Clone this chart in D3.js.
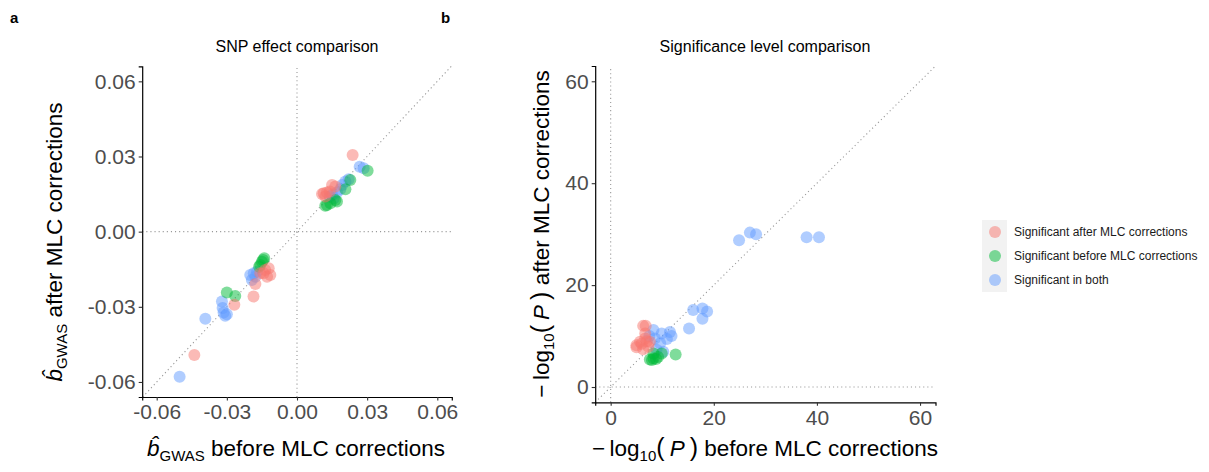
<!DOCTYPE html>
<html><head><meta charset="utf-8">
<script src="https://cdn.jsdelivr.net/npm/d3@7"></script>
<style>
html,body{margin:0;padding:0;background:#fff;}
svg{display:block;font-family:"Liberation Sans",Arial,Helvetica,sans-serif;}
</style></head>
<body><svg id="chart" width="1209" height="472"></svg>
<script>
// ---------- data ----------
const groupNames = ["Significant after MLC corrections","Significant before MLC corrections","Significant in both"];
const groupColors = ["#F8766D","#00BA38","#619CFF"];

// Panel a: SNP effects (before, after)
const effectAfterX  = [-0.0439,-0.0268,-0.0186,-0.0178,-0.0136,-0.0121,-0.0114,-0.0143,-0.0157,-0.0128, 0.0238,0.0150,0.0164,0.0114,0.0128,0.0121,0.0107,0.0140];
const effectAfterY  = [-0.0492,-0.0292,-0.0259,-0.0209,-0.0153,-0.0146,-0.0173,-0.0166,-0.0166,-0.0180, 0.0306,0.0186,0.0180,0.0153,0.0156,0.0140,0.0150,0.0160];
const effectBeforeX = [-0.0300,-0.0264,-0.0140,-0.0150,-0.0157,-0.0145,-0.0162, 0.0302,0.0228,0.0207,0.0128,0.0171,0.0143,0.0121,0.0164];
const effectBeforeY = [-0.0243,-0.0257,-0.0106,-0.0120,-0.0133,-0.0113,-0.0140, 0.0243,0.0206,0.0169,0.0106,0.0120,0.0113,0.0103,0.0126];
const effectBothX   = [-0.0502,-0.0392,-0.0321,-0.0307,-0.0314,-0.0300,-0.0318,-0.0200,-0.0193,-0.0171,-0.0178,-0.0185, 0.0268,0.0285,0.0221,0.0207,0.0193,0.0185,0.0150,0.0157,0.0171,0.0140];
const effectBothY   = [-0.0579,-0.0348,-0.0279,-0.0336,-0.0323,-0.0330,-0.0305,-0.0173,-0.0193,-0.0160,-0.0180,-0.0166, 0.0259,0.0253,0.0209,0.0200,0.0186,0.0169,0.0146,0.0133,0.0156,0.0140];

// Panel b: -log10(P) (before, after)
const pvalAfterX  = [6.3,6.8,5.0,5.7,6.7,7.3,6.3,7.6,6.7,5.0,6.0,7.0];
const pvalAfterY  = [12.0,12.0,8.2,8.9,9.5,7.9,7.4,8.9,10.5,7.8,8.5,9.0];
const pvalBeforeX = [8.3,7.6,9.2,9.9,12.6,8.3,8.0,8.8];
const pvalBeforeY = [5.6,5.4,5.9,6.6,6.4,6.6,5.3,5.5];
const pvalBothX   = [24.9,27.0,28.2,38.0,40.4,16.0,17.8,18.7,17.8,15.2,8.3,9.9,11.5,11.8,10.9,9.6,8.9,10.2,8.6,7.5];
const pvalBothY   = [28.8,30.3,30.0,29.4,29.4,15.1,15.4,14.8,13.4,11.5,11.2,10.5,10.8,10.0,9.4,8.6,7.3,6.9,9.5,10.0];

const effectTicks = [-0.06,-0.03,0.00,0.03,0.06];
const effectTickLabels = ["-0.06","-0.03","0.00","0.03","0.06"];
const pvalTicks = [0,20,40,60];

// ---------- drawing ----------
const svg = d3.select("#chart");
const tickColor = "#4D4D4D";
const dotColor = "#999999";

function zip(xs, ys){ return xs.map((x,i)=>[x, ys[i]]); }

function panel(opts){
  const {left,right,top,bottom,xDom,yDom,ticks,tickFmt,groups,diagLo,diagHi} = opts;
  const x = d3.scaleLinear().domain(xDom).range([left,right]);
  const y = d3.scaleLinear().domain(yDom).range([bottom,top]);
  const g = svg.append("g");
  const ref = g.append("g").attr("stroke",dotColor).attr("stroke-width",1.1)
      .attr("stroke-dasharray","1.1,3").attr("fill","none");
  ref.append("line").attr("x1",x(0)).attr("x2",x(0)).attr("y1",y(yDom[0])).attr("y2",y(yDom[1]));
  ref.append("line").attr("x1",x(xDom[0])).attr("x2",x(xDom[1])).attr("y1",y(0)).attr("y2",y(0));
  ref.append("line").attr("x1",x(diagLo)).attr("y1",y(diagLo)).attr("x2",x(diagHi)).attr("y2",y(diagHi));
  [2,1,0].forEach(k=>{
    g.append("g").selectAll("circle").data(groups[k]).join("circle")
      .attr("cx",d=>x(d[0])).attr("cy",d=>y(d[1])).attr("r",6)
      .attr("fill",groupColors[k]).attr("fill-opacity",0.5);
  });
  const xa = g.append("g").attr("transform",`translate(0,${bottom})`)
    .call(d3.axisBottom(x).tickValues(ticks).tickFormat(tickFmt).tickSizeOuter(0).tickSize(3.5).tickPadding(3));
  const ya = g.append("g").attr("transform",`translate(${left},0)`)
    .call(d3.axisLeft(y).tickValues(ticks).tickFormat(tickFmt).tickSizeOuter(0).tickSize(3.5).tickPadding(3));
  [xa,ya].forEach(a=>{
    a.select(".domain").attr("stroke","#000").attr("stroke-width",1.2);
    a.selectAll(".tick line").attr("stroke","#333").attr("stroke-width",1.1);
    a.selectAll(".tick text").attr("fill",tickColor).style("font-size","21px")
      .style("font-family","'Liberation Sans',Arial,sans-serif");
  });
  xa.selectAll(".tick text").attr("dy","0.75em");
  return {x,y};
}

panel({left:142.2,right:451.8,top:66.3,bottom:397,xDom:[-0.0662,0.0662],yDom:[-0.066,0.066],
  ticks:effectTicks,tickFmt:(d,i)=>effectTickLabels[i],
  groups:[zip(effectAfterX,effectAfterY),zip(effectBeforeX,effectBeforeY),zip(effectBothX,effectBothY)],
  diagLo:-0.066,diagHi:0.066});
panel({left:595.2,right:935.5,top:66,bottom:402.3,xDom:[-3,63],yDom:[-3,63],
  ticks:pvalTicks,tickFmt:d=>String(d),
  groups:[zip(pvalAfterX,pvalAfterY),zip(pvalBeforeX,pvalBeforeY),zip(pvalBothX,pvalBothY)],
  diagLo:-3,diagHi:63});

// panel letters and titles
svg.append("text").attr("x",10).attr("y",23).attr("font-weight","bold").style("font-size","15px").text("a");
svg.append("text").attr("x",441).attr("y",23).attr("font-weight","bold").style("font-size","15px").text("b");
svg.append("text").attr("x",297).attr("y",52).attr("text-anchor","middle").style("font-size","16px").text("SNP effect comparison");
svg.append("text").attr("x",765).attr("y",52).attr("text-anchor","middle").style("font-size","16px").text("Significance level comparison");

// axis titles
const titleSize = 22.5;
function bhatTitle(g, rest){
  const t = g.append("text").attr("text-anchor","middle").style("font-size",titleSize+"px").attr("fill","#000");
  t.append("tspan").attr("font-style","italic").text("b\u0302");
  t.append("tspan").style("font-size","15px").attr("dy",5).text("GWAS");
  t.append("tspan").attr("dy",-5).text(" " + rest);
}
function logTitle(g, rest){
  const t = g.append("text").attr("text-anchor","middle").style("font-size",titleSize+"px").attr("fill","#000");
  t.append("tspan").text("\u2212\u2009log");
  t.append("tspan").style("font-size","15px").attr("dy",5).text("10");
  t.append("tspan").style("font-size","25px").attr("dy",-5).text("(\u2009");
  t.append("tspan").attr("font-style","italic").text("P");
  t.append("tspan").style("font-size","25px").text("\u2009)");
  t.append("tspan").text(" " + rest);
}
bhatTitle(svg.append("g").attr("transform","translate(296,456)"), "before MLC corrections");
bhatTitle(svg.append("g").attr("transform","translate(62,242) rotate(-90)"), "after MLC corrections");
logTitle(svg.append("g").attr("transform","translate(765,456)"), "before MLC corrections");
logTitle(svg.append("g").attr("transform","translate(549,234) rotate(-90)"), "after MLC corrections");

// legend
const lg = svg.append("g");
lg.append("rect").attr("x",982).attr("y",220).attr("width",25).attr("height",72).attr("fill","#F2F2F2");
groupNames.forEach((n,i)=>{
  const cy = 232 + i*24;
  lg.append("circle").attr("cx",995).attr("cy",cy).attr("r",6).attr("fill",groupColors[i]).attr("fill-opacity",0.5);
  lg.append("text").attr("x",1014).attr("y",cy).attr("dy","0.35em").style("font-size","12px").attr("fill","#1a1a1a").text(n);
});
</script></body></html>
